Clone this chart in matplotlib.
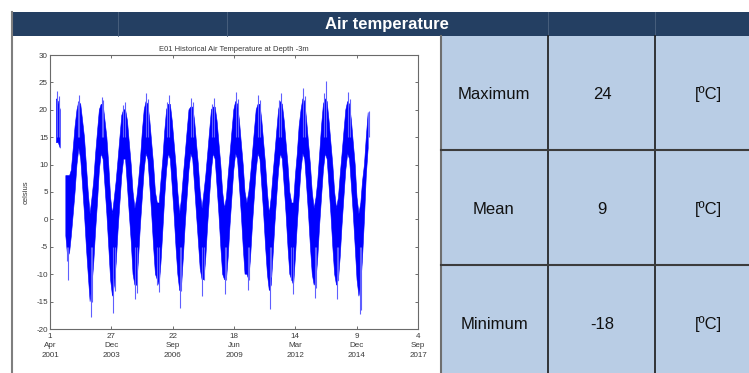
import numpy as np
import pandas as pd
import matplotlib
matplotlib.use("Agg")
import matplotlib.pyplot as plt
from matplotlib.patches import Rectangle

plt.rcParams['font.family'] = ['Liberation Sans', 'DejaVu Sans']
plt.rcParams['axes.unicode_minus'] = False

# ==============================
# 1. DATA
# ==============================
nan = np.nan

# monthly envelope of the air temperature record, Jul 2001 .. Jun 2015 (celsius)
temp_low = [
    14, 14, 13, nan, nan, -3,                        # 2001 Jul-Dec
    -7, -6, -3, 1, 5, 10, 13, 11, 6, 1, -5, -10,     # 2002
    -15, -12, -8, -2, 3, 9, 12, 11, 6, 1, -5, -11,   # 2003
    -14, -12, -8, -2, 3, 8, 11, 11, 6, 1, -4, -10,   # 2004
    -12, -12, -7, -1, 4, 9, 12, 11, 6, 1, -5, -10,   # 2005
    -11, -12, -8, -2, 4, 9, 12, 11, 6, 1, -5, -10,   # 2006
    -13, -12, -7, -1, 4, 9, 12, 11, 6, 1, -4, -9,    # 2007
    -11, -11, -7, -1, 4, 9, 12, 11, 6, 1, -5, -10,   # 2008
    -11, -11, -7, -1, 4, 9, 12, 11, 6, 1, -5, -10,   # 2009
    -10, -11, -7, -1, 4, 9, 12, 11, 6, 1, -5, -10,   # 2010
    -13, -12, -7, -1, 4, 9, 12, 11, 6, 1, -5, -10,   # 2011
    -11, -12, -7, -1, 4, 9, 12, 11, 6, 1, -5, -10,   # 2012
    -12, -11, -7, -1, 4, 9, 12, 11, 6, 1, -5, -10,   # 2013
    -12, -11, -7, -1, 4, 9, 12, 11, 6, 1, -5, -11,   # 2014
    -14, -12, -7, 0, 8, 13,                          # 2015 Jan-Jun
]
temp_high = [
    22, 21.5, 20, nan, nan, 8,                       # 2001 Jul-Dec
    8, 8, 9, 13, 17, 20, 21.5, 21, 18, 15, 10, 5,    # 2002
    1, 4, 7, 12, 16, 20, 21, 21, 18, 15, 10, 4,      # 2003
    1, 4, 7, 11, 15, 19, 20, 20, 18, 14, 10, 5,      # 2004
    2, 4, 7, 11, 16, 20, 21.5, 21, 18, 14, 10, 5,    # 2005
    3, 3, 7, 11, 16, 20, 21, 21, 18, 14, 10, 5,      # 2006
    1, 4, 8, 12, 16, 20, 20.5, 20.5, 18, 14, 10, 5,  # 2007
    2, 5, 8, 12, 16, 20, 20.5, 20.5, 18, 14, 10, 5,  # 2008
    2, 4, 8, 12, 16, 20, 21.5, 21, 18, 14, 10, 5,    # 2009
    3, 5, 8, 12, 16, 20, 21, 21, 18, 14, 10, 5,      # 2010
    1, 4, 8, 12, 16, 20, 21.5, 21, 18, 14, 10, 5,    # 2011
    3, 3, 8, 12, 17, 20, 22, 21.5, 18, 14, 10, 5,    # 2012
    2, 4, 7, 12, 17, 21, 22, 21.5, 18, 14, 10, 5,    # 2013
    2, 4, 8, 12, 16, 20, 21.5, 21, 18, 14, 10, 4,    # 2014
    1, 3, 7, 10, 15, 19.5,                           # 2015 Jan-Jun
]

# single extreme readings sticking out of the band
peak_dates = ["2001-07-20", "2002-07-25", "2003-07-20", "2004-08-01", "2005-07-20",
              "2006-07-25", "2007-07-20", "2008-07-25", "2009-07-20", "2010-07-20",
              "2011-07-20", "2012-07-25", "2013-07-25", "2014-07-25", "2015-06-20",
              "2001-08-20", "2002-06-25", "2003-08-20", "2004-07-05", "2005-08-15",
              "2006-06-25", "2007-08-15", "2008-06-28", "2009-08-20", "2010-08-15",
              "2011-06-28", "2012-08-20", "2013-06-28", "2014-08-20"]
peak_values = [23.5, 22.7, 22.4, 21.5, 23.0, 22.7, 22.1, 22.1, 23.3, 22.7,
               23.0, 23.9, 25.2, 23.3, 19.7,
               22.5, 21.5, 21.8, 20.8, 22.0, 21.5, 21.5, 21.0, 22.0, 21.8,
               21.8, 22.5, 23.0, 22.0]

trough_dates = ["2002-01-25", "2003-01-28", "2004-01-25", "2005-01-20", "2006-02-05",
                "2007-01-25", "2008-01-20", "2009-01-25", "2010-01-28", "2011-01-25",
                "2012-02-01", "2013-01-25", "2014-01-20", "2015-01-28",
                "2002-01-05", "2003-02-15", "2004-02-20", "2005-02-10", "2006-01-10",
                "2007-02-10", "2008-02-15", "2009-02-10", "2010-02-15", "2011-02-10",
                "2012-01-10", "2013-02-15", "2014-02-15", "2015-02-15"]
trough_values = [-11.0, -17.8, -17.1, -14.5, -13.2, -16.2, -13.9, -13.7, -12.9, -16.3,
                 -13.6, -14.3, -14.5, -17.2,
                 -7.5, -15.0, -13.0, -13.5, -12.0, -13.0, -11.0, -11.0, -11.0, -10.5,
                 -11.0, -12.5, -11.0, -16.5]

tick_dates = ["2001-04-01", "2003-12-27", "2006-09-22", "2009-06-18",
              "2012-03-14", "2014-12-09", "2017-09-04"]
tick_labels = ["1\nApr\n2001", "27\nDec\n2003", "22\nSep\n2006", "18\nJun\n2009",
               "14\nMar\n2012", "9\nDec\n2014", "4\nSep\n2017"]

stat_names = ["Maximum", "Mean", "Minimum"]
stat_values = ["24", "9", "-18"]
stat_units = ["[ºC]", "[ºC]", "[ºC]"]

months = pd.date_range("2001-07-01", "2015-06-01", freq="MS") + pd.Timedelta(days=14)
temp_low = np.array(temp_low, dtype=float)
temp_high = np.array(temp_high, dtype=float)

# ==============================
# 2. FIGURE + PANEL BACKGROUND
# ==============================
W, H = 749, 373
fig = plt.figure(figsize=(W / 100, H / 100), dpi=100)

bg = fig.add_axes([0, 0, 1, 1])
bg.set_xlim(0, W)
bg.set_ylim(H, 0)
bg.axis("off")

header_col = "#243f62"
cell_col = "#b9cde5"

bg.add_patch(Rectangle((11, 12), W - 11, 24, facecolor=header_col, edgecolor="none"))
for xv in [118, 227, 548, 655]:
    bg.plot([xv, xv], [12, 36], color="#4d6480", lw=0.6)
bg.text(387, 24, "Air temperature", color="white", fontsize=12, fontweight="bold",
        ha="center", va="center")

# left white panel border
bg.plot([11.5, 11.5], [12, H], color="#7f7f7f", lw=1.5)

# stats table
col_x = [441, 548, 655, W + 2]
row_y = [36, 150, 265, H + 2]
text_x = [494, 602, 708]
text_y = [93, 208, 323]
for r in range(3):
    cells = [stat_names[r], stat_values[r], stat_units[r]]
    for c in range(3):
        bg.add_patch(Rectangle((col_x[c], row_y[r]), col_x[c + 1] - col_x[c],
                               row_y[r + 1] - row_y[r], facecolor=cell_col,
                               edgecolor="none"))
        bg.text(text_x[c], text_y[r], cells[c], fontsize=12, color="#111111",
                ha="center", va="center_baseline")
bg.plot([441, 441], [36, H], color="#6f6f6f", lw=1.5)
for xv in [548, 655]:
    bg.plot([xv, xv], [36, H], color="#1a1a1a", lw=1.2)
for yv in [150, 265]:
    bg.plot([441, W], [yv, yv], color="#3c3c3c", lw=1.5)

# ==============================
# 3. TIME SERIES CHART
# ==============================
ax = fig.add_axes([50 / W, 1 - 329 / H, 368 / W, 274 / H])
ax.set_zorder(2)

ax.vlines(pd.to_datetime(peak_dates), 15, peak_values, color="#5f5fff", lw=0.8)
ax.vlines(pd.to_datetime(trough_dates), trough_values, -5, color="#5f5fff", lw=0.8)
ax.fill_between(months, temp_low, temp_high, color="#0000ff", lw=0.4, edgecolor="#0000ff")

ax.set_xlim(pd.Timestamp("2001-04-01"), pd.Timestamp("2017-09-04"))
ax.set_ylim(-20, 30)
ax.set_yticks(range(-20, 31, 5))
ax.set_xticks(pd.to_datetime(tick_dates))
ax.set_xticklabels(tick_labels, linespacing=1.45)

ax.tick_params(direction="in", length=2.5, width=0.6, colors="#555555",
               labelsize=5.8, labelcolor="#3a3a3a", top=True, right=True)
ax.tick_params(axis="x", pad=3)
ax.tick_params(axis="y", pad=1.5)
for s in ax.spines.values():
    s.set_color("#6a6a6a")
    s.set_linewidth(0.8)

ax.set_title("E01 Historical Air Temperature at Depth -3m", fontsize=5.5,
             color="#3a3a3a", pad=3)
ax.set_ylabel("celsius", fontsize=5.5, color="#3a3a3a", labelpad=5)

fig.savefig("out.png", dpi=100)
